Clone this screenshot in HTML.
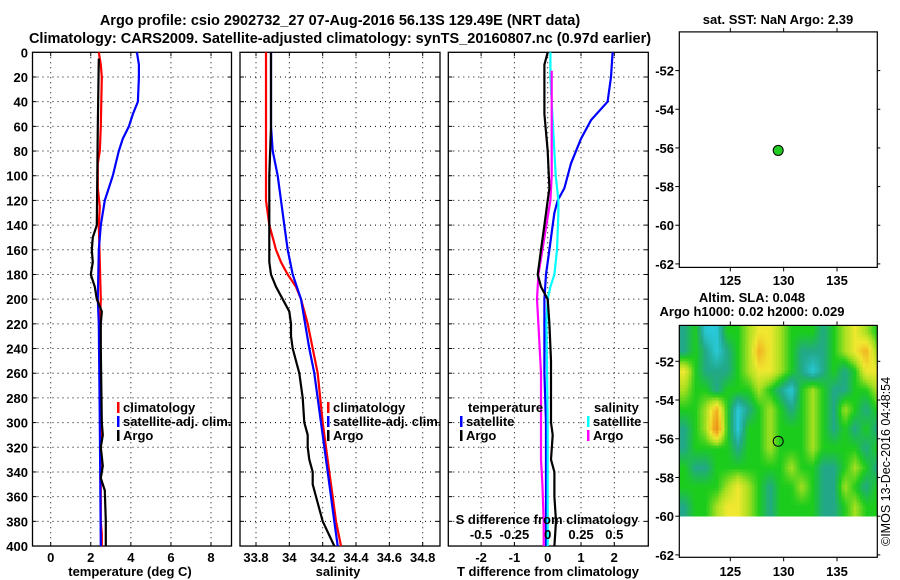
<!DOCTYPE html>
<html><head><meta charset="utf-8"><style>
html,body{margin:0;padding:0;background:#fff;}
svg{display:block;font-family:"Liberation Sans",sans-serif;}
.t{font-weight:bold;font-size:13px;fill:#000;}
.ti{font-weight:bold;font-size:14.5px;fill:#000;}
</style></head><body>
<svg id="chart" width="900" height="580" viewBox="0 0 900 580" xmlns="http://www.w3.org/2000/svg">
<text class="ti" x="340" y="25" text-anchor="middle">Argo profile: csio 2902732_27 07-Aug-2016 56.13S 129.49E (NRT data)</text>
<text class="ti" x="340" y="43" text-anchor="middle">Climatology: CARS2009. Satellite-adjusted climatology: synTS_20160807.nc (0.97d earlier)</text>
<g id="g"></g>
</svg>
<script>
// ---- data ----
const depthTicks=[0,20,40,60,80,100,120,140,160,180,200,220,240,260,280,300,320,340,360,380,400];
const tempTicks=[0,2,4,6,8];
const salTicks=[33.8,34,34.2,34.4,34.6,34.8];
const tdiffTicks=[-2,-1,0,1,2];
const sdiffTicks=[-0.5,-0.25,0,0.25,0.5];
const sdiffTickLabels=["-0.5","-0.25","0","0.25","0.5"];
const latTicks=[-52,-54,-56,-58,-60,-62];
const lonTicks=[125,130,135];

const tClimD=[0,10,20,60,80,90,110,125,140,200,225,300,380,390,400];
const tClimV=[2.4,2.5,2.55,2.5,2.45,2.35,2.35,2.45,2.4,2.5,2.45,2.5,2.5,2.55,2.55];
const tSatD=[0,10,20,40,50,60,70,80,100,120,140,160,200,220,300,400];
const tSatV=[4.3,4.4,4.4,4.35,4.1,3.9,3.6,3.4,3.1,2.7,2.5,2.4,2.35,2.4,2.45,2.5];
const tArgoD=[5,60,140,150,160,170,180,190,200,210,220,240,300,310,320,335,345,355,380,400];
const tArgoV=[2.4,2.35,2.3,2.1,2.05,2.1,2.0,2.2,2.3,2.55,2.5,2.5,2.55,2.6,2.5,2.6,2.5,2.7,2.75,2.75];

const sClimD=[0,120,140,150,160,170,180,190,200,220,260,300,340,360,380,400];
const sClimV=[33.86,33.86,33.88,33.9,33.92,33.95,33.99,34.04,34.07,34.11,34.17,34.2,34.24,34.26,34.28,34.31];
const sSatD=[0,60,80,100,120,140,160,180,200,240,260,300,340,380,400];
const sSatV=[33.89,33.89,33.9,33.93,33.95,33.97,33.99,34.02,34.07,34.12,34.15,34.19,34.23,34.27,34.29];
const sArgoD=[0,60,100,170,180,190,200,210,220,230,240,260,280,300,310,320,330,340,350,360,380,400];
const sArgoV=[33.89,33.89,33.88,33.88,33.89,33.92,33.96,34.0,34.01,34.01,34.02,34.06,34.08,34.09,34.11,34.11,34.12,34.14,34.14,34.16,34.2,34.27];

const dtSatD=[0,20,40,55,70,90,110,120,130,140,160,180,200,260,300,400];
const dtSatV=[1.95,1.9,1.8,1.3,1.0,0.7,0.5,0.3,0.2,0.15,0.05,-0.05,-0.1,-0.1,-0.05,-0.05];
const dtArgoD=[0,10,50,80,110,120,140,160,170,180,190,200,220,250,300,310,330,340,360,380,400];
const dtArgoV=[0,-0.1,-0.1,0,0.05,0,-0.1,-0.2,-0.25,-0.3,-0.2,0,0.05,0.1,0.1,0.15,0.1,0.2,0.2,0.25,0.2];
const dsSatD=[0,20,60,100,120,130,160,180,190,200,220,300,400];
const dsSatV=[0.02,0.02,0.04,0.06,0.08,0.08,0.07,0.05,0.02,0,-0.01,0,0];
const dsArgoD=[15,60,100,120,140,160,180,200,220,240,260,300,330,350,380,400];
const dsArgoV=[0.03,0.03,0.03,0.02,-0.01,-0.04,-0.07,-0.08,-0.07,-0.06,-0.05,-0.05,-0.05,-0.04,-0.03,-0.03];

const argoLon=129.49, argoLat=-56.13;
const slaLon0=120.2, slaLat0=-50;
const slaGrid=[
[1,2,0,0,2,2,3,4,4,3,2,2,2,1,2,3,4,3,2],
[1,2,1,0,1,2,3,5,4,3,2,1,1,1,2,3,4,5,3],
[4,2,1,1,1,2,3,4,4,3,2,1,0,1,2,1,2,4,4],
[3,2,2,1,2,2,2,3,2,1,0,2,3,2,1,1,2,2,3],
[2,2,3,5,2,0,1,2,3,2,1,2,3,2,1,3,2,1,2],
[1,2,3,6,2,0,2,2,3,2,2,2,3,2,1,2,1,2,1],
[1,2,2,2,2,1,2,2,3,2,2,2,3,2,2,2,2,1,2],
[2,1,1,2,2,2,2,2,2,2,3,2,2,1,1,2,3,2,1],
[2,2,2,2,3,4,3,2,1,2,2,3,2,1,1,3,2,1,2],
[1,2,2,3,4,4,3,2,1,2,2,2,2,1,1,2,3,2,2]];
const slaColors=[[40,200,216],[34,168,136],[28,204,28],[168,224,32],[240,232,48],[240,176,32],[232,144,24]];

// ---- scales ----
const Y=d=>52.3+d*1.2343;
const XT=v=>50.7+v*20.04;
const XS=v=>256+(v-33.8)*166.7;
const XD=v=>547.7+v*33.3;
const XDS=v=>547.7+v*133.3;
const LON=v=>730.3+(v-125)*10.67;
const LAT1=v=>70.6+(-52-v)*19.33;
const LAT2=v=>361.3+(-52-v)*19.36;

const NS="http://www.w3.org/2000/svg";
const G=document.getElementById('g');
function mk(tag,at,parent){const e=document.createElementNS(NS,tag);for(const k in at)e.setAttribute(k,at[k]);(parent||G).appendChild(e);return e;}
function txt(x,y,s,anchor,cls){const e=mk('text',{x:x,y:y,'text-anchor':anchor||'middle','class':cls||'t'});e.textContent=s;return e;}

function panel(name,x0,x1,xTicks,xs,xLabels){
  const pg=mk('g',{});
  
  
  depthTicks.forEach(d=>{if(d>0&&d<400){const l=mk('line',{x1:x0,x2:x1,y1:Y(d),y2:Y(d),stroke:'#000','stroke-dasharray':'1,4','stroke-width':1},pg);
    mk('line',{x1:x0,x2:x0+4,y1:Y(d),y2:Y(d),stroke:'#000'},pg);mk('line',{x1:x1-4,x2:x1,y1:Y(d),y2:Y(d),stroke:'#000'},pg);}});
  xTicks.forEach((v,i)=>{const x=xs(v);const l=mk('line',{x1:x,x2:x,y1:Y(0),y2:Y(400),stroke:'#000','stroke-dasharray':'1,4'},pg);
    mk('line',{x1:x,x2:x,y1:Y(400)-4,y2:Y(400),stroke:'#000'},pg);mk('line',{x1:x,x2:x,y1:Y(0),y2:Y(0)+4,stroke:'#000'},pg);
    const t=txt(x,562,xLabels?xLabels[i]:String(v));});
  const r=mk('rect',{x:x0,y:Y(0),width:x1-x0,height:Y(400)-Y(0),fill:'none',stroke:'#000','stroke-width':1.3},pg);
  
  return pg;
}
function line(name,D,V,xs,col){
  const pts=D.map((d,i)=>xs(V[i]).toFixed(1)+','+Y(d).toFixed(1)).join(' ');
  const p=mk('polyline',{points:pts,fill:'none',stroke:col,'stroke-width':2.2,'stroke-linejoin':'miter'});
  
  
}
function legend(x,y,items){
  items.forEach((it,i)=>{
    const yy=y+i*14;
    if(it[1]){const m=mk('rect',{x:x,y:yy-10,width:2.5,height:11,fill:it[1]});}
    const t=txt(x+6,yy,it[0],'start');
  });
}

// depth labels
depthTicks.forEach(d=>{const t=txt(28,Y(d)+5,String(d),'end');});

// panel 1
panel('temperature-panel',32.5,231.5,tempTicks,XT);
line('temp-climatology',tClimD,tClimV,XT,'#ff0000');
line('temp-satellite-adj',tSatD,tSatV,XT,'#0000ff');
line('temp-argo',tArgoD,tArgoV,XT,'#000');
legend(117,412,[['climatology','#ff0000'],['satellite-adj. clim.','#0000ff'],['Argo','#000']]);
let t=txt(130,576,'temperature (deg C)');

// panel 2
panel('salinity-panel',240,440,salTicks,XS);
line('sal-climatology',sClimD,sClimV,XS,'#ff0000');
line('sal-satellite-adj',sSatD,sSatV,XS,'#0000ff');
line('sal-argo',sArgoD,sArgoV,XS,'#000');
legend(327,412,[['climatology','#ff0000'],['satellite-adj. clim.','#0000ff'],['Argo','#000']]);
t=txt(338,576,'salinity');

// panel 3
panel('difference-panel',448.3,648.3,tdiffTicks,XD);
line('dT-satellite',dtSatD,dtSatV,XD,'#0000ff');
line('dS-satellite',dsSatD,dsSatV,XDS,'#00ffff');
line('dS-argo',dsArgoD,dsArgoV,XDS,'#ff00ff');
line('dT-argo',dtArgoD,dtArgoV,XD,'#000');
t=txt(468,412,'temperature','start');
legend(460,426,[['satellite','#0000ff'],['Argo','#000']]);
t=txt(594,412,'salinity','start');
legend(587,426,[['satellite','#00ffff'],['Argo','#ff00ff']]);
t=txt(547,524,'S difference from climatology');
sdiffTicks.forEach((v,i)=>{const e=txt(XDS(v),539,sdiffTickLabels[i]);});
t=txt(548,576,'T difference from climatology');

// map 1
const mx0=679.3,mx1=877.3;
t=txt(778,24,'sat. SST: NaN Argo: 2.39');
function mapAxes(name,top,bot,LAT,lonY){
  const r=mk('rect',{x:mx0,y:top,width:mx1-mx0,height:bot-top,fill:'none',stroke:'#000','stroke-width':1.2});
  
  latTicks.forEach(v=>{const y=LAT(v);mk('line',{x1:mx0-4,x2:mx0,y1:y,y2:y,stroke:'#000'});mk('line',{x1:mx1,x2:mx1+3,y1:y,y2:y,stroke:'#000'});
    const e=txt(674,y+5,String(v),'end');});
  lonTicks.forEach(v=>{const x=LON(v);mk('line',{x1:x,x2:x,y1:bot,y2:bot+4,stroke:'#000'});mk('line',{x1:x,x2:x,y1:top-4,y2:top,stroke:'#000'});
    const e=txt(x,lonY,String(v));});
}
mapAxes('sst-map-frame',31.9,267.4,LAT1,285);
let c=mk('circle',{cx:LON(argoLon),cy:LAT1(argoLat),r:5,fill:'#22cc22',stroke:'#000','stroke-width':1});


// map 2 heatmap (bilinear-smoothed rendering of slaGrid)
t=txt(752,302,'Altim. SLA: 0.048');
t=txt(752,316,'Argo h1000: 0.02 h2000: 0.029');
const hg=mk('g',{'shape-rendering':'crispEdges'});

const nR=slaGrid.length,nC=slaGrid[0].length;
function sample(lon,lat){
  let fx=lon-slaLon0-0.5, fy=slaLat0-lat-0.5;
  fx=Math.max(0,Math.min(nC-1,fx)); fy=Math.max(0,Math.min(nR-1,fy));
  const x0=Math.floor(fx),y0=Math.floor(fy),x1=Math.min(nC-1,x0+1),y1=Math.min(nR-1,y0+1);
  const ax=fx-x0,ay=fy-y0;
  return (slaGrid[y0][x0]*(1-ax)+slaGrid[y0][x1]*ax)*(1-ay)+(slaGrid[y1][x0]*(1-ax)+slaGrid[y1][x1]*ax)*ay;
}
function col(v){
  const i=Math.max(0,Math.min(slaColors.length-2,Math.floor(v))),f=Math.max(0,Math.min(1,v-i));
  const a=slaColors[i],b=slaColors[i+1];
  return 'rgb('+a.map((c,k)=>Math.round(c+(b[k]-c)*f)).join(',')+')';
}
const top2=LAT2(-50.15),bot2=LAT2(-60),step=3;
for(let y=top2;y<bot2;y+=step){
  for(let x=mx0;x<mx1;x+=step){
    const lon=125+(x+step/2-730.3)/10.67, lat=-52-(y+step/2-361.3)/19.36;
    const cell=mk('rect',{x:x.toFixed(1),y:y.toFixed(1),width:Math.min(step,mx1-x)+0.3,height:Math.min(step,bot2-y)+0.3,fill:col(sample(lon,lat))},hg);
    
    
  }
}
mapAxes('sla-map-frame',325.4,557.3,LAT2,576);
c=mk('circle',{cx:LON(argoLon),cy:LAT2(argoLat),r:5,fill:'none',stroke:'#000','stroke-width':1});

t=mk('text',{x:0,y:0,transform:'translate(890,546) rotate(-90)','font-size':'12.5','fill':'#000'});
t.textContent='©IMOS 13-Dec-2016 04:48:54';

</script>
</body></html>
